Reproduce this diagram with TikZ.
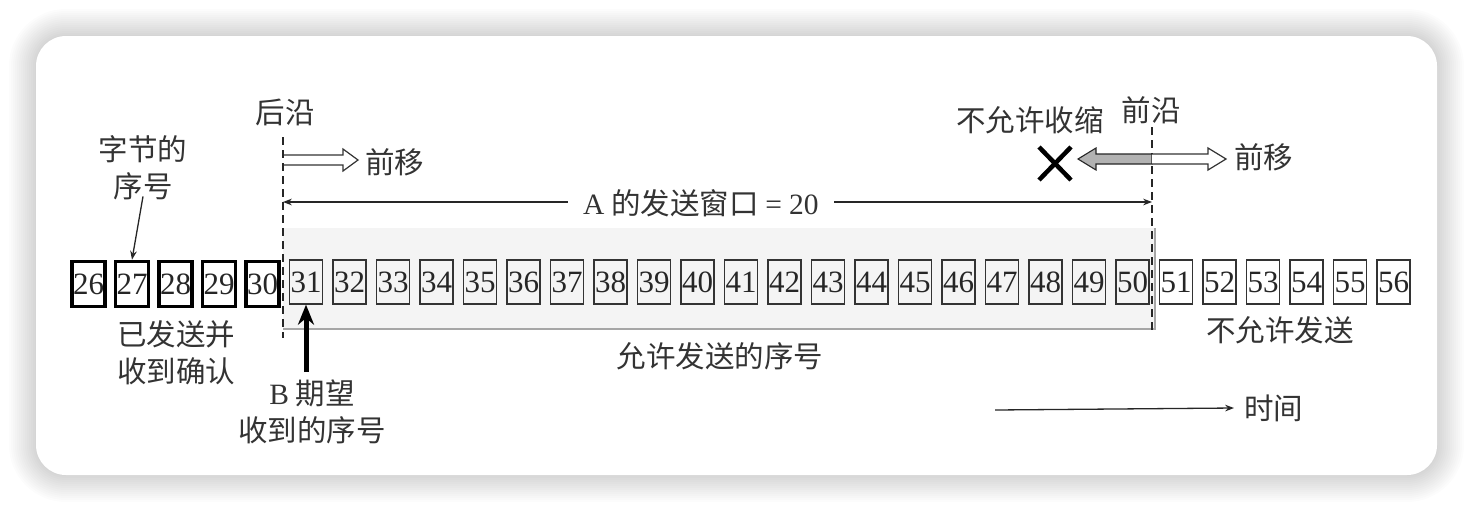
\documentclass[tikz,border=0pt]{standalone}
\usepackage{fontspec}
\setmainfont{Liberation Serif}
\newfontfamily\cjk{Noto Sans CJK SC}
\usetikzlibrary{positioning,arrows.meta}

\begin{document}
\begin{tikzpicture}[x=1pt,y=-1pt,>=Stealth,
  txt/.style={font=\cjk\fontsize{29.5}{37}\selectfont,text=black!80,inner sep=0pt,align=center},
  seq/.style={draw=black!80,line width=1.3pt,minimum width=33pt,minimum height=44pt,inner sep=0pt,font=\fontsize{31}{31}\selectfont,text=black!85},
  done/.style={seq,draw=black,line width=3.6pt,minimum height=45pt},
  rim/.style={black!85,line width=2.2pt,dash pattern=on 8pt off 5pt},
  hollow/.style={draw=black!80,line width=1.2pt,fill=white}]
  \useasboundingbox (0,0) rectangle (1474,512);
  % card with soft shadow
  \foreach \s in {1,3,...,27} \fill[black,opacity=.011,rounded corners=30+\s] ({36-\s},{36-\s}) rectangle ({1437+\s},{475+\s});
  \fill[white,rounded corners=30] (36,36) rectangle (1437,475);
  % window area
  \fill[gray!9] (283,228) rectangle (1155,329);
  \draw[gray!70,line width=1.8pt] (283,329) -- (1155,329) -- (1155,228);
  % byte boxes
  \foreach \n in {26,...,30} \node[done] (b\n) at ({88.5+(\n-26)*43.5},284) {\n};
  \foreach \n in {31,...,56} \node[seq] (b\n) at ({88.5+(\n-26)*43.5},282) {\n};
  % trailing and leading edges
  \coordinate (tt) at (283,137); \coordinate (tb) at (283,338);
  \coordinate (lt) at (1152,127); \coordinate (lb) at (1152,332);
  \draw[rim] (tt) -- (tb);
  \draw[rim] (lt) -- (lb);
  \node[txt] (trail) at (285,112) {后沿};
  \node[txt] (lead) at (1151,110) {前沿};
  % window size
  \coordinate (w1) at (283,202); \coordinate (w2) at (1152,202);
  \draw[black!85,line width=1.3pt,<->] (w1) -- (w2);
  \node[txt,fill=white,inner xsep=15pt,inner ysep=2pt] (wnd) at (701,203) {{\rmfamily A} 的发送窗口 {\rmfamily = 20}};
  % moving forward
  \draw[hollow] (284,155) -- (343,155) -- (343,149) -- (358,160) -- (343,171) -- (343,165) -- (284,165);
  \node[txt,anchor=west] (fwd1) at (365,162) {前移};
  \draw[draw=black!85,line width=1.1pt,fill=gray!60] (1152,154) -- (1096,154) -- (1096,148) -- (1078,159) -- (1096,170) -- (1096,164) -- (1152,164) -- cycle;
  \draw[hollow] (1152,154) -- (1208,154) -- (1208,148) -- (1226,159) -- (1208,170) -- (1208,164) -- (1152,164);
  \node[txt,anchor=west] (fwd2) at (1234,157) {前移};
  \node[txt] (noshrink) at (1030,120) {不允许收缩};
  \draw[black,line width=4.5pt] (1039,147) -- (1071,180) (1039,180) -- (1071,147);
  % labels
  \node[txt] (bytelbl) at (143,168) {字节的\\序号};
  \draw[black!85,line width=1.3pt,->] ([yshift=4pt]bytelbl.south) -- (b27.north);
  \node[txt] (acked) at (176,353) {已发送并\\收到确认};
  \node[txt] (expect) at (312,412) {{\rmfamily B} 期望\\收到的序号};
  \draw[black,line width=5pt,-{Stealth[length=20pt,width=16pt]}] (306,372) -- (b31.south);
  \node[txt] (allowed) at (720,356) {允许发送的序号};
  \node[txt] (denied) at (1280,330) {不允许发送};
  % time axis
  \coordinate (t0) at (995,410);
  \node[txt,anchor=west] (timelbl) at (1244,408) {时间};
  \draw[black!85,line width=1.3pt,->] (t0) -- ([xshift=-10pt]timelbl.west);
\end{tikzpicture}
\end{document}
